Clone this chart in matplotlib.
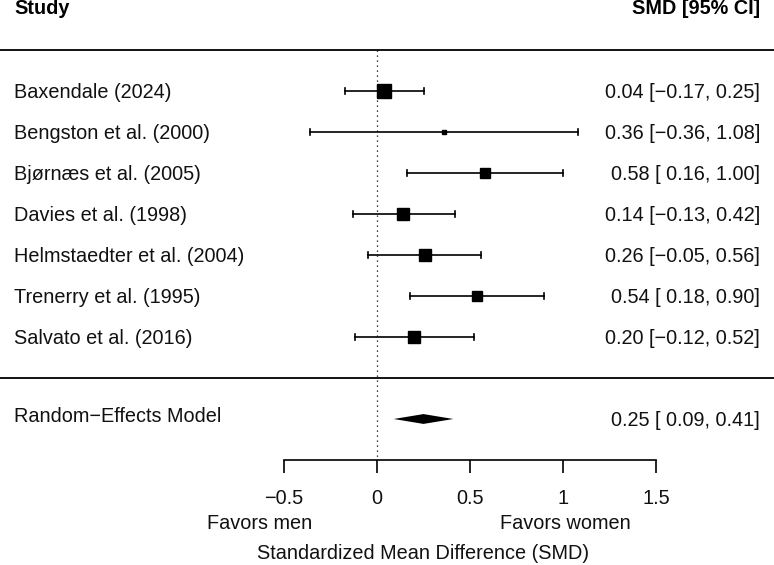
import numpy as np
import matplotlib.pyplot as plt

plt.rcParams["font.family"] = ["Liberation Sans", "DejaVu Sans"]

studies = [
    "Baxendale (2024)",
    "Bengston et al. (2000)",
    "Bjørnæs et al. (2005)",
    "Davies et al. (1998)",
    "Helmstaedter et al. (2004)",
    "Trenerry et al. (1995)",
    "Salvato et al. (2016)",
]
smd = [0.04, 0.36, 0.58, 0.14, 0.26, 0.54, 0.20]
ci_lo = [-0.17, -0.36, 0.16, -0.13, -0.05, 0.18, -0.12]
ci_hi = [0.25, 1.08, 1.00, 0.42, 0.56, 0.90, 0.52]
box_size = [10.0, 3.5, 6.5, 8.5, 8.0, 7.5, 8.0]  # marker size (pt), relative weights

re_est, re_lo, re_hi = 0.25, 0.09, 0.41
xticks = [-0.5, 0, 0.5, 1, 1.5]


def fmt_ci(est, lo, hi):
    lo_s = f"{lo:.2f}".replace("-", "\u2212") if lo < 0 else f" {lo:.2f}"
    return f"{est:.2f} [{lo_s}, {hi:.2f}]"


fig = plt.figure(figsize=(7.74, 5.65), dpi=100)
ax = fig.add_axes([0, 0, 1, 1])
x_left, x_right = -377 / 186, (774 - 377) / 186
ax.set_xlim(x_left, x_right)
ax.set_ylim(-187 / 41, 378 / 41)

k = len(studies)
ys = np.arange(k, 0, -1)
fs = 14.3
lx = x_left + 14 / 186
rx = x_right - 14 / 186
dy = -0.03

# study rows
for y, name, e, lo, hi, ms in zip(ys, studies, smd, ci_lo, ci_hi, box_size):
    ax.plot([lo, hi], [y, y], color="black", lw=1.2)
    ax.plot([lo, lo], [y - 0.085, y + 0.085], color="black", lw=1.2)
    ax.plot([hi, hi], [y - 0.085, y + 0.085], color="black", lw=1.2)
    ax.plot(e, y, marker="s", ms=ms, color="black", mec="black")
    ax.text(lx, y + dy, name, ha="left", va="center", fontsize=fs, color="#111111")
    ax.text(rx, y + dy, fmt_ci(e, lo, hi), ha="right", va="center", fontsize=fs,
            color="#111111")

# summary diamond
ax.fill([re_lo, re_est, re_hi, re_est], [-1, -1 + 0.12, -1, -1 - 0.12],
        color="black", lw=0)
ax.text(lx, -0.93, "Random\u2212Effects Model", ha="left", va="center", fontsize=fs,
        color="#111111")
ax.text(rx, -1 + dy, fmt_ci(re_est, re_lo, re_hi), ha="right", va="center", fontsize=fs,
        color="#111111")

# headers and rules
ax.text(lx, k + 2, "Study", ha="left", va="center", fontsize=fs, fontweight="bold")
ax.text(rx, k + 2, "SMD [95% CI]", ha="right", va="center", fontsize=fs,
        fontweight="bold")
ax.axhline(k + 1, color="black", lw=1.3)
ax.axhline(0, color="black", lw=1.3)
ax.plot([0, 0], [k + 1, -2], color="black", lw=0.9, ls=(0, (1, 3)))

# x axis
for s in ["top", "left", "right"]:
    ax.spines[s].set_visible(False)
ax.spines["bottom"].set_position(("data", -2))
ax.spines["bottom"].set_bounds(xticks[0], xticks[-1])
ax.spines["bottom"].set_linewidth(1.2)
ax.set_xticks(xticks)
ax.set_xticklabels(["\u22120.5", "0", "0.5", "1", "1.5"], fontsize=fs, color="#111111")
ax.tick_params(axis="x", length=9, width=1.2, pad=12)
ax.set_yticks([])

ax.text(-0.629, -3.56, "Favors men", ha="center", va="center", fontsize=fs, color="#111111")
ax.text(1.014, -3.56, "Favors women", ha="center", va="center", fontsize=fs, color="#111111")
ax.text(0.247, -4.27, "Standardized Mean Difference (SMD)", ha="center", va="center",
        fontsize=fs, color="#111111")

fig.savefig("out.png", dpi=100)
